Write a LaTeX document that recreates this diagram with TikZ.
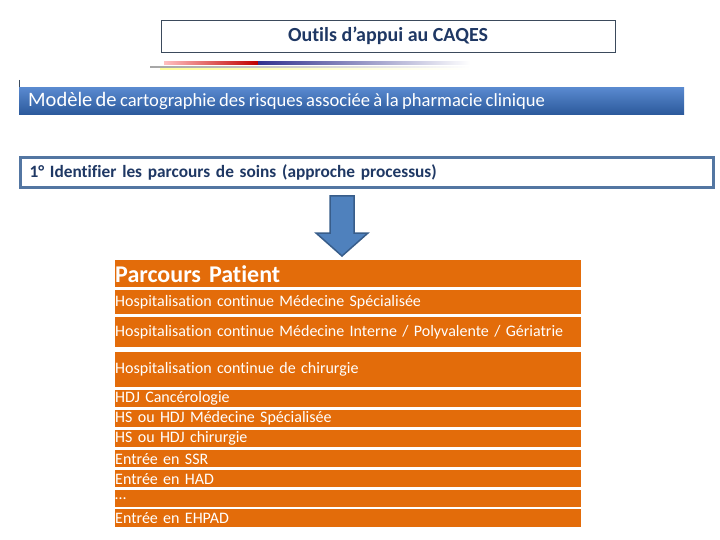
\documentclass[tikz,border=0pt]{standalone}
\usepackage{fontspec}
\setmainfont{Carlito}[Ligatures=NoCommon]
\usepackage{xcolor}
\usepackage{tikz}
\usetikzlibrary{shapes,arrows}

\definecolor{navy}{HTML}{1F3864}
\definecolor{titleedge}{HTML}{3B4A5C}
\definecolor{steel}{HTML}{5376A2}
\definecolor{bannertop}{HTML}{5A8AD0}
\definecolor{bannerbot}{HTML}{2C5A9C}
\definecolor{orng}{HTML}{E36C0A}
\definecolor{arrowblue}{HTML}{4F81BD}
\definecolor{arrowedge}{HTML}{385D8A}

\tikzset{
  row/.style={fill=orng, anchor=north west, inner sep=0pt, text width=466pt,
    align=left, text=white, font=\fontsize{16}{17}\selectfont},
}

\begin{document}
\begin{tikzpicture}[x=1pt,y=-1pt]
\useasboundingbox (0,0) rectangle (720,540);
%
\node[draw=titleedge, minimum width=454pt, minimum height=32pt, inner sep=0pt,
  text=navy, font=\fontsize{20}{22}\selectfont\bfseries] (title) at (388,36)
  {Outils d’appui au CAQES};
%
\shade[left color=red!25, right color=red!75!black] (164,62) rectangle (258,65);
\shade[left color=blue!45!black!80, right color=white] (258,62) rectangle (470,65);
\shade[left color=gray!70, right color=white] (150,66.5) rectangle (470,67.5);
\shade[left color=yellow!40, right color=white] (160,68.5) rectangle (470,69.3);
%
\draw[titleedge] (19,80) -- (19,87);
\node[anchor=north west, top color=bannertop, bottom color=bannerbot,
  minimum height=27pt, inner xsep=9pt, inner ysep=0pt, text width=647pt,
  align=left, text=white] (banner) at (19,87)
  {{\fontsize{20.5}{22}\selectfont Modèle de} {\fontsize{18.6}{20}\selectfont cartographie des risques associée à la pharmacie clinique}};
%
\node[anchor=north west, draw=steel, line width=3pt, fill=white,
  minimum height=30pt, inner xsep=9pt, inner ysep=0pt, text width=675pt,
  align=left, text=navy, font=\fontsize{17.3}{19}\selectfont\bfseries] (step1) at (19,156)
  {1° Identifier les parcours de soins (approche processus)};
%
\draw[arrowedge, fill=arrowblue, line width=1.5pt, line join=miter]
  (330,196) -- (354,196) -- (354,233) -- (368,233) -- (342,256)
  -- (316,233) -- (330,233) -- cycle;
%
\node[row, minimum height=27pt, font=\fontsize{24}{26}\selectfont\bfseries] (hdr) at (115,260) {Parcours Patient};
\node[row, minimum height=24pt] (r1) at (115,290) {Hospitalisation continue Médecine Spécialisée};
\node[row, minimum height=30pt] (r2) at (115,317) {Hospitalisation continue Médecine Interne / Polyvalente / Gériatrie};
\node[row, minimum height=35pt] (r3) at (115,352) {Hospitalisation continue de chirurgie};
%
\node[row, minimum height=17pt] (r4) at (115,390) {HDJ Cancérologie};
\node[row, minimum height=17pt] (r5) at (115,410) {HS ou HDJ Médecine Spécialisée};
\node[row, minimum height=17pt] (r6) at (115,430) {HS ou HDJ chirurgie};
\node[row, minimum height=17pt] (r7) at (115,450) {Entrée en SSR};
\node[row, minimum height=17pt] (r8) at (115,470) {Entrée en HAD};
\node[row, minimum height=17pt] (r9) at (115,490) {\dots};
\node[row, minimum height=18pt] (r10) at (115,509) {Entrée en EHPAD};
\end{tikzpicture}
\end{document}
